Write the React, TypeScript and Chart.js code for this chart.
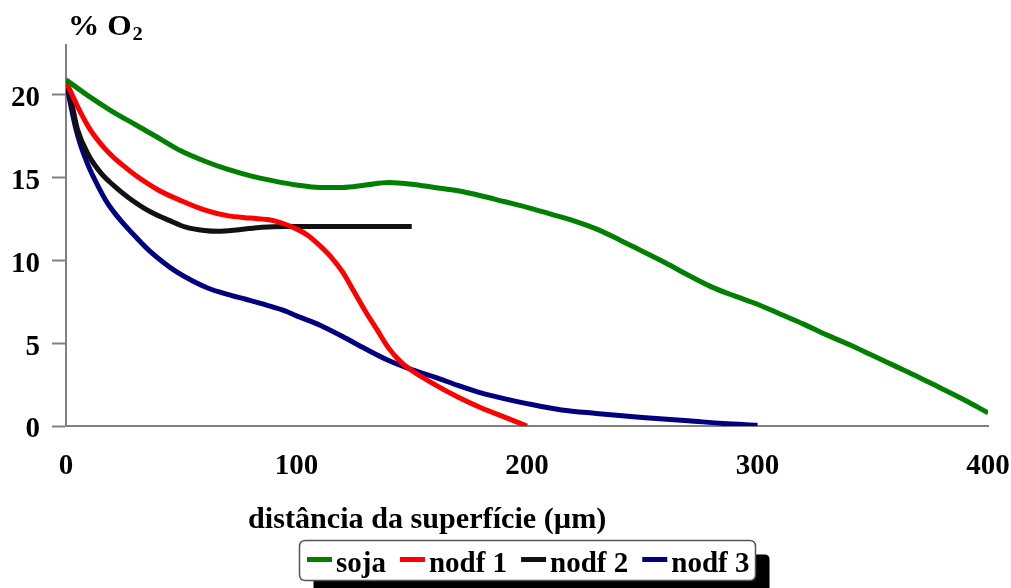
import React, { useEffect, useRef } from "react";
import { Chart, registerables } from "chart.js";

Chart.register(...registerables);

// ---- data ----
const seriesNames = ["soja", "nodf 1", "nodf 2", "nodf 3"];
const seriesColors = ["#008000", "#FF0000", "#111111", "#000080"];

const sojaX = [0, 10, 20, 30, 40, 50, 60, 70, 80, 90, 100, 110, 120, 130, 140, 150, 160, 170, 180, 190, 200, 210, 220, 230, 240, 250, 260, 270, 280, 290, 300, 310, 320, 330, 340, 350, 360, 370, 380, 390, 400];
const sojaY = [20.9, 19.9, 19.0, 18.2, 17.4, 16.6, 16.0, 15.5, 15.1, 14.8, 14.55, 14.4, 14.4, 14.55, 14.7, 14.6, 14.4, 14.2, 13.9, 13.55, 13.2, 12.8, 12.4, 11.9, 11.25, 10.55, 9.85, 9.1, 8.4, 7.85, 7.35, 6.75, 6.15, 5.5, 4.9, 4.25, 3.6, 2.95, 2.25, 1.55, 0.8];

const nodf1X = [0, 5, 10, 15, 20, 25, 30, 40, 50, 60, 70, 80, 90, 100, 105, 110, 115, 120, 125, 130, 135, 140, 145, 150, 160, 170, 180, 190, 200];
const nodf1Y = [20.8, 19.3, 18.0, 17.05, 16.3, 15.7, 15.15, 14.25, 13.6, 13.05, 12.7, 12.55, 12.4, 11.9, 11.5, 10.9, 10.2, 9.3, 8.1, 6.9, 5.8, 4.7, 3.9, 3.35, 2.5, 1.75, 1.1, 0.55, 0.0];

const nodf2X = [0, 2, 5, 10, 15, 20, 27, 37, 45, 52, 60, 66, 75, 85, 95, 110, 130, 150];
const nodf2Y = [20.8, 19.8, 17.9, 16.3, 15.3, 14.6, 13.8, 12.9, 12.4, 12.0, 11.8, 11.75, 11.85, 12.0, 12.05, 12.05, 12.05, 12.05];

const nodf3X = [0, 2, 4, 6, 8, 10, 14, 18, 22, 26, 30, 36, 42, 48, 55, 62, 70, 78, 87, 95, 100, 110, 120, 130, 140, 150, 160, 170, 180, 190, 200, 215, 230, 250, 270, 285, 300];
const nodf3Y = [20.9, 19.4, 18.1, 17.1, 16.3, 15.6, 14.45, 13.45, 12.7, 12.05, 11.45, 10.6, 9.9, 9.3, 8.75, 8.3, 7.95, 7.65, 7.3, 6.95, 6.65, 6.1, 5.4, 4.65, 3.95, 3.4, 2.95, 2.45, 2.0, 1.65, 1.35, 0.97, 0.76, 0.52, 0.32, 0.15, 0.05];

const xTickValues = [0, 100, 200, 300, 400];
const yTickValues = [0, 5, 10, 15, 20];

const xAxisTitle = "distância da superfície (µm)";
const yAxisTitleMain = "% O";
const yAxisTitleSub = "2";

const FONT = "'Liberation Serif', 'Times New Roman', serif";

function toPoints(xs: number[], ys: number[]) {
  return xs.map((x, i) => ({ x, y: ys[i] }));
}

function roundRect(ctx: CanvasRenderingContext2D, x: number, y: number, w: number, h: number, r: number) {
  ctx.beginPath();
  ctx.moveTo(x + r, y);
  ctx.lineTo(x + w - r, y);
  ctx.quadraticCurveTo(x + w, y, x + w, y + r);
  ctx.lineTo(x + w, y + h - r);
  ctx.quadraticCurveTo(x + w, y + h, x + w - r, y + h);
  ctx.lineTo(x + r, y + h);
  ctx.quadraticCurveTo(x, y + h, x, y + h - r);
  ctx.lineTo(x, y + r);
  ctx.quadraticCurveTo(x, y, x + r, y);
  ctx.closePath();
}

const decorPlugin = {
  id: "decor",
  afterDraw(chart: any) {
    const ctx: CanvasRenderingContext2D = chart.ctx;
    ctx.save();
    // y axis title
    ctx.fillStyle = "#000";
    ctx.textBaseline = "alphabetic";
    ctx.textAlign = "left";
    ctx.save();
    ctx.translate(68, 35);
    ctx.scale(1.08, 1);
    ctx.font = `bold 29px ${FONT}`;
    ctx.fillText(yAxisTitleMain, 0, 0);
    const w = ctx.measureText(yAxisTitleMain).width;
    ctx.font = `bold 19px ${FONT}`;
    ctx.fillText(yAxisTitleSub, w + 1, 5);
    ctx.restore();

    // x axis title
    ctx.save();
    ctx.translate(248, 528);
    ctx.scale(1.04, 1);
    ctx.font = `bold 29px ${FONT}`;
    ctx.fillText(xAxisTitle, 0, 0);
    ctx.restore();

    // legend
    const bx = 299.5, by = 540.5, bw = 456, bh = 40;
    ctx.fillStyle = "#000";
    roundRect(ctx, bx + 14, by + 14, bw, bh, 5);
    ctx.fill();
    ctx.fillStyle = "#fff";
    ctx.strokeStyle = "#555";
    ctx.lineWidth = 1.5;
    roundRect(ctx, bx, by, bw, bh, 6);
    ctx.fill();
    ctx.stroke();
    ctx.font = `bold 29px ${FONT}`;
    let x = 307;
    chart.data.datasets.forEach((ds: any) => {
      ctx.fillStyle = ds.borderColor;
      ctx.fillRect(x, 557, 25, 5);
      x += 29;
      ctx.fillStyle = "#000";
      ctx.fillText(ds.label, x, 572);
      x += ctx.measureText(ds.label).width + 14;
    });
    ctx.restore();
  },
};

export default function App() {
  const canvasRef = useRef<HTMLCanvasElement | null>(null);

  useEffect(() => {
    const canvas = canvasRef.current;
    if (!canvas) return;
    const xs = [sojaX, nodf1X, nodf2X, nodf3X];
    const ys = [sojaY, nodf1Y, nodf2Y, nodf3Y];
    const chart = new Chart(canvas, {
      type: "line",
      data: {
        datasets: seriesNames.map((name, i) => ({
          label: name,
          data: toPoints(xs[i], ys[i]),
          borderColor: seriesColors[i],
          backgroundColor: seriesColors[i],
          borderWidth: 5,
          pointRadius: 0,
          fill: false,
          cubicInterpolationMode: "monotone" as const,
        })),
      },
      options: {
        animation: false,
        responsive: false,
        devicePixelRatio: 1,
        layout: { padding: { left: 0, right: 0, top: 45, bottom: 0 } },
        plugins: {
          legend: { display: false },
          tooltip: { enabled: false },
        },
        scales: {
          x: {
            type: "linear",
            min: 0,
            max: 400,
            afterFit: (scale: any) => {
              scale.height = 588 - 426;
              scale.paddingRight = 23;
              scale.paddingLeft = 0;
            },
            afterBuildTicks: (scale: any) => {
              scale.ticks = xTickValues.map((v) => ({ value: v }));
            },
            grid: { display: true, drawOnChartArea: false, drawTicks: false },
            border: { display: true, color: "#808080", width: 2 },
            ticks: {
              color: "#000",
              padding: 23,
              maxRotation: 0,
              font: { family: FONT, size: 29, weight: "bold" },
            },
          },
          y: {
            type: "linear",
            min: 0,
            max: 23,
            afterFit: (scale: any) => {
              scale.width = 66;
              scale.paddingTop = 0;
              scale.paddingBottom = 0;
            },
            afterBuildTicks: (scale: any) => {
              scale.ticks = yTickValues.map((v) => ({ value: v }));
            },
            grid: {
              display: true,
              drawOnChartArea: false,
              drawTicks: true,
              tickLength: 14,
              tickColor: "#808080",
              tickWidth: 2,
            },
            border: { display: true, color: "#808080", width: 2 },
            ticks: {
              color: "#000",
              padding: 12,
              labelOffset: 4,
              font: { family: FONT, size: 29, weight: "bold" },
            },
          },
        },
      },
      plugins: [decorPlugin],
    } as any);
    return () => chart.destroy();
  }, []);

  return (
    <div style={{ position: "fixed", left: 0, top: 0, width: 1011, height: 588, background: "#fff" }}>
      <canvas ref={canvasRef} width={1011} height={588} style={{ display: "block" }} />
    </div>
  );
}
